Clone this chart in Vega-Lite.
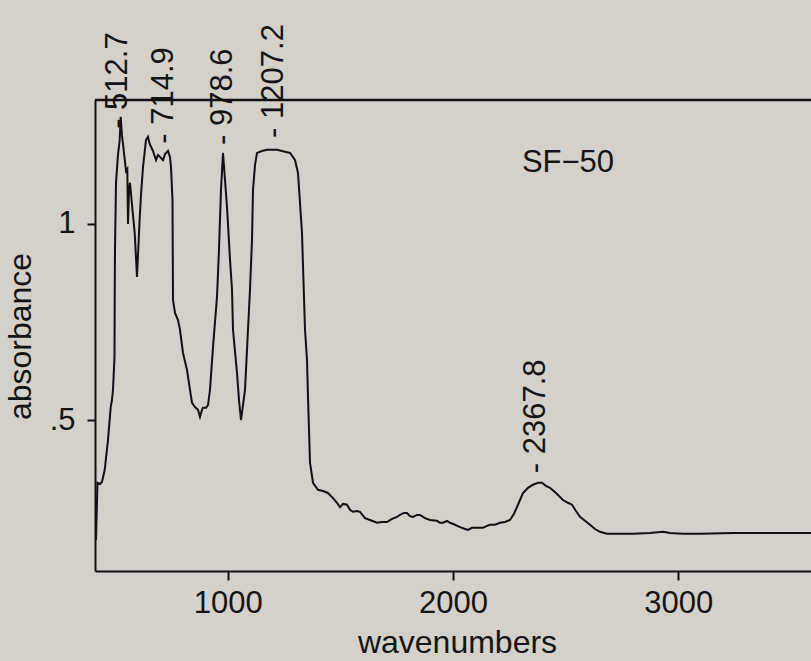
{
  "$schema": "https://vega.github.io/schema/vega-lite/v6.json",
  "autosize": {"type": "none"},
  "padding": {"left": 95, "top": 100, "right": 0, "bottom": 90},
  "width": 716,
  "height": 471,
  "background": "#d4d0ca",
  "config": {
    "view": {"stroke": null},
    "font": "Liberation Sans",
    "axis": {
      "grid": false,
      "domainColor": "#111111",
      "domainWidth": 2,
      "tickColor": "#111111",
      "tickWidth": 2,
      "labelFont": "Liberation Sans",
      "labelFontSize": 31,
      "labelColor": "#151515",
      "titleFont": "Liberation Sans",
      "titleFontSize": 32,
      "titleFontWeight": "normal",
      "titleColor": "#151515"
    }
  },
  "datasets": {
    "spectrum": [
      {"wn": 414.4, "A": 0.194}, {"wn": 421.1, "A": 0.340}, {"wn": 432.2, "A": 0.337}, {"wn": 441.1, "A": 0.342},
      {"wn": 453.1, "A": 0.373}, {"wn": 467.7, "A": 0.449}, {"wn": 479.7, "A": 0.533}, {"wn": 485.5, "A": 0.551},
      {"wn": 489.9, "A": 0.577}, {"wn": 496.6, "A": 0.661}, {"wn": 497.5, "A": 0.806}, {"wn": 498.8, "A": 0.934},
      {"wn": 503.3, "A": 1.105}, {"wn": 512.1, "A": 1.176}, {"wn": 519.7, "A": 1.214}, {"wn": 524.1, "A": 1.273},
      {"wn": 529.9, "A": 1.225}, {"wn": 534.4, "A": 1.204}, {"wn": 547.7, "A": 1.135}, {"wn": 553.5, "A": 1.140},
      {"wn": 556.6, "A": 1.000}, {"wn": 561.0, "A": 1.087}, {"wn": 565.4, "A": 1.105}, {"wn": 574.3, "A": 1.049},
      {"wn": 586.3, "A": 0.977}, {"wn": 596.5, "A": 0.865}, {"wn": 608.5, "A": 1.015}, {"wn": 614.3, "A": 1.074},
      {"wn": 623.2, "A": 1.145}, {"wn": 636.5, "A": 1.214}, {"wn": 645.4, "A": 1.222}, {"wn": 652.9, "A": 1.204},
      {"wn": 667.6, "A": 1.186}, {"wn": 680.9, "A": 1.163}, {"wn": 689.8, "A": 1.176}, {"wn": 698.7, "A": 1.171},
      {"wn": 712.0, "A": 1.163}, {"wn": 720.9, "A": 1.178}, {"wn": 734.2, "A": 1.186}, {"wn": 743.1, "A": 1.171},
      {"wn": 747.5, "A": 1.145}, {"wn": 754.2, "A": 1.061}, {"wn": 756.4, "A": 0.806}, {"wn": 765.3, "A": 0.773},
      {"wn": 778.6, "A": 0.755}, {"wn": 787.5, "A": 0.730}, {"wn": 800.8, "A": 0.671}, {"wn": 818.6, "A": 0.628},
      {"wn": 831.9, "A": 0.577}, {"wn": 840.8, "A": 0.544}, {"wn": 854.1, "A": 0.533}, {"wn": 867.5, "A": 0.526},
      {"wn": 876.3, "A": 0.508}, {"wn": 885.2, "A": 0.526}, {"wn": 889.7, "A": 0.531}, {"wn": 903.0, "A": 0.531},
      {"wn": 911.9, "A": 0.538}, {"wn": 920.7, "A": 0.577}, {"wn": 934.1, "A": 0.686}, {"wn": 951.8, "A": 0.814},
      {"wn": 960.7, "A": 0.934}, {"wn": 969.6, "A": 1.087}, {"wn": 978.5, "A": 1.181}, {"wn": 987.4, "A": 1.112},
      {"wn": 996.3, "A": 1.043}, {"wn": 1009.6, "A": 0.909}, {"wn": 1018.5, "A": 0.832}, {"wn": 1022.9, "A": 0.730},
      {"wn": 1040.7, "A": 0.620}, {"wn": 1049.5, "A": 0.551}, {"wn": 1058.4, "A": 0.500}, {"wn": 1067.3, "A": 0.538},
      {"wn": 1076.2, "A": 0.577}, {"wn": 1089.5, "A": 0.730}, {"wn": 1098.4, "A": 0.832}, {"wn": 1107.3, "A": 0.959},
      {"wn": 1111.7, "A": 1.087}, {"wn": 1120.6, "A": 1.150}, {"wn": 1129.5, "A": 1.181}, {"wn": 1151.7, "A": 1.186},
      {"wn": 1173.9, "A": 1.189}, {"wn": 1218.3, "A": 1.189}, {"wn": 1253.8, "A": 1.184}, {"wn": 1276.1, "A": 1.181},
      {"wn": 1298.3, "A": 1.163}, {"wn": 1311.6, "A": 1.130}, {"wn": 1329.3, "A": 0.977}, {"wn": 1342.7, "A": 0.730},
      {"wn": 1351.6, "A": 0.653}, {"wn": 1356.0, "A": 0.559}, {"wn": 1364.9, "A": 0.391}, {"wn": 1378.2, "A": 0.340},
      {"wn": 1400.4, "A": 0.322}, {"wn": 1422.6, "A": 0.319}, {"wn": 1444.8, "A": 0.314}, {"wn": 1467.0, "A": 0.301},
      {"wn": 1484.8, "A": 0.289}, {"wn": 1498.1, "A": 0.278}, {"wn": 1511.4, "A": 0.286}, {"wn": 1529.2, "A": 0.284},
      {"wn": 1542.5, "A": 0.271}, {"wn": 1555.9, "A": 0.266}, {"wn": 1573.6, "A": 0.268}, {"wn": 1586.9, "A": 0.266},
      {"wn": 1609.2, "A": 0.250}, {"wn": 1631.4, "A": 0.245}, {"wn": 1662.5, "A": 0.238}, {"wn": 1684.7, "A": 0.240},
      {"wn": 1706.9, "A": 0.240}, {"wn": 1729.1, "A": 0.248}, {"wn": 1751.3, "A": 0.253}, {"wn": 1764.6, "A": 0.258},
      {"wn": 1782.4, "A": 0.263}, {"wn": 1795.7, "A": 0.263}, {"wn": 1809.0, "A": 0.255}, {"wn": 1822.3, "A": 0.253},
      {"wn": 1840.1, "A": 0.258}, {"wn": 1853.4, "A": 0.258}, {"wn": 1875.6, "A": 0.250}, {"wn": 1897.8, "A": 0.245},
      {"wn": 1928.9, "A": 0.243}, {"wn": 1942.2, "A": 0.238}, {"wn": 1955.6, "A": 0.238}, {"wn": 1973.3, "A": 0.243},
      {"wn": 1986.7, "A": 0.238}, {"wn": 2008.9, "A": 0.233}, {"wn": 2031.1, "A": 0.227}, {"wn": 2053.3, "A": 0.222},
      {"wn": 2066.6, "A": 0.220}, {"wn": 2084.4, "A": 0.225}, {"wn": 2106.6, "A": 0.225}, {"wn": 2133.2, "A": 0.225},
      {"wn": 2151.0, "A": 0.230}, {"wn": 2164.3, "A": 0.233}, {"wn": 2186.5, "A": 0.233}, {"wn": 2208.7, "A": 0.238},
      {"wn": 2230.9, "A": 0.240}, {"wn": 2253.1, "A": 0.245}, {"wn": 2270.9, "A": 0.261}, {"wn": 2284.2, "A": 0.278},
      {"wn": 2297.6, "A": 0.296}, {"wn": 2310.9, "A": 0.314}, {"wn": 2333.1, "A": 0.327}, {"wn": 2355.3, "A": 0.335},
      {"wn": 2377.5, "A": 0.340}, {"wn": 2395.3, "A": 0.340}, {"wn": 2413.0, "A": 0.332}, {"wn": 2430.8, "A": 0.327},
      {"wn": 2457.4, "A": 0.314}, {"wn": 2488.5, "A": 0.296}, {"wn": 2510.7, "A": 0.289}, {"wn": 2528.5, "A": 0.284},
      {"wn": 2546.2, "A": 0.268}, {"wn": 2564.0, "A": 0.253}, {"wn": 2586.2, "A": 0.243}, {"wn": 2608.4, "A": 0.233},
      {"wn": 2630.7, "A": 0.222}, {"wn": 2652.9, "A": 0.215}, {"wn": 2684.0, "A": 0.210}, {"wn": 2741.7, "A": 0.210},
      {"wn": 2799.4, "A": 0.210}, {"wn": 2874.9, "A": 0.212}, {"wn": 2932.7, "A": 0.215}, {"wn": 2963.8, "A": 0.212},
      {"wn": 3021.5, "A": 0.210}, {"wn": 3097.0, "A": 0.210}, {"wn": 3243.6, "A": 0.212}, {"wn": 3407.9, "A": 0.212},
      {"wn": 3590.0, "A": 0.212}
    ],
    "peaks": [
      {"wn": 512.7, "A": 1.222, "label": "- 512.7"},
      {"wn": 714.9, "A": 1.184, "label": "- 714.9"},
      {"wn": 978.6, "A": 1.181, "label": "- 978.6"},
      {"wn": 1207.2, "A": 1.199, "label": "- 1207.2"},
      {"wn": 2367.8, "A": 0.344, "label": "- 2367.8"}
    ],
    "one": [{}]
  },
  "layer": [
    {
      "data": {"name": "spectrum"},
      "mark": {"type": "line", "color": "#111111", "strokeWidth": 2, "clip": true},
      "encoding": {
        "x": {
          "field": "wn", "type": "quantitative",
          "scale": {"domain": [410, 3590], "nice": false, "zero": false},
          "axis": {
            "values": [1000, 2000, 3000], "format": "d", "tickSize": 9, "labelPadding": 8,
            "title": "wavenumbers", "titleX": 362, "titleY": 81,
            "titleAlign": "center", "titleBaseline": "alphabetic", "titleAnchor": null
          }
        },
        "y": {
          "field": "A", "type": "quantitative",
          "scale": {"domain": [0.115, 1.316], "nice": false, "zero": false},
          "axis": {
            "values": [0.5, 1], "tickSize": 8, "labelPadding": 12,
            "labelExpr": "datum.value == 1 ? '1' : '.5'",
            "title": "absorbance", "titleX": -75, "titleY": 236,
            "titleAngle": -90, "titleAlign": "center", "titleBaseline": "middle", "titleAnchor": null
          }
        }
      }
    },
    {
      "data": {"name": "one"},
      "mark": {"type": "rule", "color": "#111111", "strokeWidth": 2.5},
      "encoding": {"y": {"datum": 1.316, "type": "quantitative"}}
    },
    {
      "data": {"name": "peaks"},
      "mark": {"type": "text", "angle": 270, "align": "left", "baseline": "middle", "dx": 8,
               "fontSize": 31, "font": "Liberation Sans", "color": "#151515"},
      "encoding": {
        "x": {"field": "wn", "type": "quantitative"},
        "y": {"field": "A", "type": "quantitative"},
        "text": {"field": "label"}
      }
    },
    {
      "data": {"name": "one"},
      "mark": {"type": "text", "align": "center", "baseline": "alphabetic",
               "fontSize": 31, "font": "Liberation Sans", "color": "#151515", "text": "SF−50"},
      "encoding": {
        "x": {"datum": 2510.7, "type": "quantitative"},
        "y": {"datum": 1.133, "type": "quantitative"}
      }
    }
  ]
}
